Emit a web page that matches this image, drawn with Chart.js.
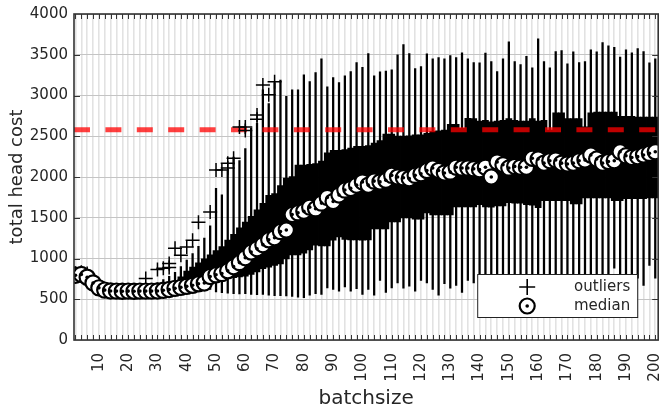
<!DOCTYPE html>
<html>
<head>
<meta charset="utf-8">
<script src="https://cdn.jsdelivr.net/npm/chart.js@4.4.1/dist/chart.umd.min.js"></script>
<style>
  html, body { margin: 0; padding: 0; background: #fff; }
  canvas { display: block; }
</style>
</head>
<body>
<canvas id="chart" width="668" height="414"></canvas>
<script>
// batch sizes (one box per value)
const batchsize = [
    2, 4, 6, 8, 10, 12, 14, 16, 18, 20,
    22, 24, 26, 28, 30, 32, 34, 36, 38, 40,
    42, 44, 46, 48, 50, 52, 54, 56, 58, 60,
    62, 64, 66, 68, 70, 72, 74, 76, 78, 80,
    82, 84, 86, 88, 90, 92, 94, 96, 98, 100,
    102, 104, 106, 108, 110, 112, 114, 116, 118, 120,
    122, 124, 126, 128, 130, 132, 134, 136, 138, 140,
    142, 144, 146, 148, 150, 152, 154, 156, 158, 160,
    162, 164, 166, 168, 170, 172, 174, 176, 178, 180,
    182, 184, 186, 188, 190, 192, 194, 196, 198, 200
];

const median = [
    795, 805, 770, 700, 640, 612, 602, 600, 598, 600,
    598, 600, 600, 600, 602, 610, 620, 634, 646, 658,
    672, 690, 700, 780, 800, 815, 850, 900, 950, 1010,
    1080, 1120, 1170, 1230, 1255, 1330, 1350, 1540, 1560, 1580,
    1630, 1610, 1680, 1750, 1700, 1780, 1840, 1860, 1900, 1940,
    1900, 1950, 1940, 1960, 2020, 2000, 1990, 1980, 2020, 2040,
    2080, 2110, 2080, 2050, 2060, 2120, 2110, 2110, 2100, 2090,
    2120, 2000, 2185, 2150, 2110, 2130, 2120, 2120, 2230, 2220,
    2170, 2200, 2210, 2170, 2160, 2170, 2200, 2210, 2270, 2220,
    2170, 2190, 2200, 2310, 2260, 2240, 2250, 2270, 2290, 2310
];

const q1 = [
    780, 790, 750, 680, 620, 600, 592, 590, 590, 590,
    590, 590, 590, 590, 592, 598, 605, 615, 625, 635,
    650, 670, 680, 700, 730, 740, 750, 760, 770, 780,
    800, 830, 870, 890, 910, 930, 990, 1040, 1040, 1060,
    1100, 1160, 1150, 1150, 1220, 1260, 1230, 1225, 1225, 1220,
    1225, 1360, 1360, 1360, 1445, 1445, 1495, 1495, 1480, 1480,
    1555, 1530, 1530, 1530, 1530, 1630, 1630, 1630, 1630, 1655,
    1630, 1625, 1640, 1640, 1680, 1675, 1675, 1655, 1650, 1620,
    1705, 1705, 1705, 1705, 1705, 1665, 1665, 1740, 1740, 1740,
    1740, 1740, 1705, 1705, 1730, 1730, 1730, 1730, 1740, 1740
];

const q3 = [
    810, 815, 790, 720, 660, 625, 612, 610, 608, 610,
    608, 612, 615, 620, 625, 640, 660, 700, 780, 850,
    900, 950, 1000, 1050, 1100, 1150, 1230, 1300, 1380, 1450,
    1520, 1600, 1680, 1780, 1800, 1900, 1990, 2010, 2150, 2150,
    2160, 2170, 2200, 2300, 2330, 2330, 2340, 2360, 2380, 2380,
    2390, 2420, 2450, 2530, 2530, 2505, 2505, 2510, 2520, 2520,
    2540, 2565, 2570, 2580, 2650, 2650, 2600, 2725, 2720, 2690,
    2700, 2680, 2690, 2700, 2720, 2700, 2690, 2690, 2720, 2690,
    2700, 2580, 2790, 2790, 2720, 2720, 2720, 2620, 2790, 2800,
    2800, 2800, 2800, 2750, 2750, 2750, 2740, 2740, 2740, 2740
];

const whisker_low = [
    770, 780, 740, 660, 600, 590, 585, 582, 580, 582,
    580, 582, 582, 582, 585, 590, 595, 600, 605, 610,
    615, 620, 625, 620, 590, 580, 575, 570, 565, 570,
    560, 555, 560, 550, 545, 545, 540, 535, 525, 520,
    550, 570, 560, 640, 620, 600, 650, 600, 630, 560,
    620, 550, 730, 585, 640, 700, 635, 660, 600, 730,
    700, 620, 550, 690, 635, 670, 585, 730, 700, 680,
    760, 700, 740, 720, 700, 760, 740, 700, 740, 720,
    760, 700, 740, 720, 760, 700, 740, 720, 760, 700,
    740, 720, 880, 760, 740, 720, 760, 670, 915, 760
];

const whisker_high = [
    810, 820, 800, 760, 700, 650, 630, 620, 620, 620,
    630, 640, 660, 680, 700, 740, 780, 830, 900, 980,
    1060, 1150, 1250, 1400, 1860, 1780, 2080, 2245, 2200, 2350,
    2600, 2660, 3070, 2900, 3160, 3190, 2990, 3070, 3070, 3255,
    3170, 3280, 3450, 3105, 3220, 3160, 3240, 3295, 3405, 3345,
    3515, 3240, 3290, 3300, 3315, 3500, 3625, 3515, 3330, 3355,
    3510, 3450, 3465, 3450, 3490, 3465, 3525, 3450, 3405, 3400,
    3520, 3415, 3295, 3450, 3660, 3415, 3380, 3480, 3340, 3695,
    3415, 3340, 3540, 3550, 3390, 3535, 3405, 3415, 3560, 3535,
    3650, 3610, 3590, 3470, 3560, 3525, 3575, 3540, 3400, 3450
];

const outlier_x = [2, 4, 6, 26, 30, 32, 34, 34, 36, 38, 40, 42, 44, 48,
    50, 52, 54, 54, 56, 58, 60, 60, 64, 64, 66, 68, 70];
const outlier_y = [820, 830, 815, 755, 865, 880, 890, 940, 1125, 1040, 1140, 1225, 1445, 1570,
    2085, 2085, 2110, 2170, 2230, 2615, 2615, 2570, 2760, 2710, 3130, 3010, 3170];

const head_limit = 2580;

const x_ticks = [10, 20, 30, 40, 50, 60, 70, 80, 90, 100,
    110, 120, 130, 140, 150, 160, 170, 180, 190, 200];

const x_min = 1.5;
const x_max = 201;
const text_color = '#262626';

Chart.defaults.font.family = "'DejaVu Sans', sans-serif";
Chart.defaults.color = text_color;

const ctx = document.getElementById("chart");

let median_points = batchsize.map((b, i) => ({x: b, y: median[i]}));
let box_bars = batchsize.map((b, i) => ({x: b, y: [q1[i], q3[i]]}));
let whisker_bars = batchsize.map((b, i) => ({x: b, y: [whisker_low[i], whisker_high[i]]}));
let outlier_points = outlier_x.map((b, i) => ({x: b, y: outlier_y[i]}));

// frame + inward tick marks, matplotlib style
const frame_plugin = {
    id: 'frame',
    afterDatasetsDraw(chart) {
        const c = chart.ctx;
        const a = chart.chartArea;
        const xs = chart.scales.x;
        const ys = chart.scales.y;
        c.save();
        c.strokeStyle = '#333';
        c.lineWidth = 1;
        c.beginPath();
        for (const b of batchsize) {
            const px = Math.round(xs.getPixelForValue(b)) + 0.5;
            c.moveTo(px, a.bottom); c.lineTo(px, a.bottom - 5);
            c.moveTo(px, a.top); c.lineTo(px, a.top + 5);
        }
        for (let v = 500; v < 4000; v += 500) {
            const py = Math.round(ys.getPixelForValue(v)) + 0.5;
            c.moveTo(a.left, py); c.lineTo(a.left + 6, py);
            c.moveTo(a.right, py); c.lineTo(a.right - 6, py);
        }
        c.stroke();
        c.lineWidth = 1.6;
        c.strokeRect(a.left, a.top, a.right - a.left, a.bottom - a.top);
        c.restore();
    }
};

const legend_plugin = {
    id: 'legend_box',
    afterDraw(chart) {
        const c = chart.ctx;
        const a = chart.chartArea;
        const x0 = a.right - 181;
        const y0 = a.bottom - 66;
        c.save();
        c.fillStyle = '#fff';
        c.fillRect(x0, y0, 160, 43);
        c.strokeStyle = '#222';
        c.lineWidth = 1;
        c.strokeRect(x0 + 0.5, y0 + 0.5, 160, 43);
        // outlier marker
        const mx = x0 + 50;
        c.strokeStyle = '#000';
        c.lineWidth = 1.6;
        c.beginPath();
        c.moveTo(mx - 8, y0 + 13); c.lineTo(mx + 8, y0 + 13);
        c.moveTo(mx, y0 + 5); c.lineTo(mx, y0 + 21);
        c.stroke();
        // median marker
        c.lineWidth = 2.2;
        c.beginPath();
        c.arc(mx, y0 + 32, 7.5, 0, Math.PI * 2);
        c.fillStyle = '#fff';
        c.fill();
        c.stroke();
        c.beginPath();
        c.arc(mx, y0 + 32, 1.8, 0, Math.PI * 2);
        c.fillStyle = '#000';
        c.fill();
        c.fillStyle = text_color;
        c.font = "15px 'DejaVu Sans', sans-serif";
        c.textAlign = 'right';
        c.textBaseline = 'middle';
        c.fillText('outliers', x0 + 153, y0 + 13);
        c.fillText('median', x0 + 153, y0 + 32);
        c.restore();
    }
};

let chart = new Chart(ctx, {
    type: 'bar',
    data: {
        datasets: [
            {
                type: 'scatter',
                label: 'median centre',
                data: median_points,
                pointStyle: 'circle',
                pointRadius: 1.8,
                pointBackgroundColor: '#000',
                pointBorderWidth: 0,
                order: 0
            },
            {
                type: 'scatter',
                label: 'median',
                data: median_points,
                pointStyle: 'circle',
                pointRadius: 7.6,
                pointBackgroundColor: '#fff',
                pointBorderColor: '#000',
                pointBorderWidth: 2.2,
                order: 1
            },
            {
                type: 'scatter',
                label: 'outliers',
                data: outlier_points,
                pointStyle: 'cross',
                pointRadius: 7,
                pointBorderColor: '#000',
                pointBorderWidth: 1.5,
                order: 2
            },
            {
                type: 'line',
                label: 'limit',
                data: [{x: x_min, y: head_limit}, {x: x_max, y: head_limit}],
                borderColor: 'rgba(255, 0, 0, 0.75)',
                borderWidth: 5,
                borderDash: [16, 15.4],
                borderCapStyle: 'butt',
                pointRadius: 0,
                order: 3
            },
            {
                type: 'bar',
                label: 'box',
                data: box_bars,
                backgroundColor: '#000',
                borderWidth: 0,
                grouped: false,
                barPercentage: 1.15,
                categoryPercentage: 1,
                order: 4
            },
            {
                type: 'bar',
                label: 'whisker',
                data: whisker_bars,
                backgroundColor: '#000',
                borderWidth: 0,
                grouped: false,
                barThickness: 1.6,
                order: 5
            }
        ]
    },
    options: {
        responsive: false,
        animation: false,
        devicePixelRatio: 1,
        events: [],
        layout: {
            padding: {left: 0, right: 4, top: 14, bottom: 0}
        },
        plugins: {
            legend: {display: false},
            tooltip: {enabled: false}
        },
        scales: {
            x: {
                type: 'linear',
                position: 'bottom',
                min: x_min,
                max: x_max,
                offset: false,
                grid: {display: false, offset: false},
                border: {display: false},
                afterBuildTicks: (scale) => {
                    scale.ticks = x_ticks.map(v => ({value: v}));
                },
                afterFit: (scale) => {
                    scale.height = 74;
                    scale.paddingLeft = 0;
                    scale.paddingRight = 0;
                },
                ticks: {
                    autoSkip: false,
                    minRotation: 90,
                    maxRotation: 90,
                    padding: 5,
                    font: {size: 15},
                    color: text_color,
                    callback: (v) => String(v)
                },
                title: {
                    display: true,
                    text: 'batchsize',
                    font: {size: 20},
                    color: text_color,
                    padding: {top: 0, bottom: 3}
                }
            },
            xg: {
                type: 'linear',
                position: 'top',
                min: x_min,
                max: x_max,
                offset: false,
                afterBuildTicks: (scale) => {
                    let t = [];
                    for (let v = 3; v < x_max; v += 2) t.push({value: v});
                    scale.ticks = t;
                },
                afterFit: (scale) => {
                    scale.height = 0;
                    scale.paddingLeft = 0;
                    scale.paddingRight = 0;
                },
                grid: {color: '#e2e2e2', lineWidth: 1.6, drawTicks: false},
                border: {display: false},
                ticks: {display: false}
            },
            y: {
                type: 'linear',
                min: 0,
                max: 4000,
                afterFit: (scale) => {
                    scale.width = 74;
                    scale.paddingTop = 0;
                    scale.paddingBottom = 0;
                },
                grid: {color: '#c4c4c4', lineWidth: 1, drawTicks: false},
                border: {display: false},
                ticks: {
                    stepSize: 500,
                    padding: 6,
                    font: {size: 15},
                    color: text_color,
                    callback: (v) => String(v)
                },
                title: {
                    display: true,
                    text: 'total head cost',
                    font: {size: 18},
                    color: text_color,
                    padding: {top: 7, bottom: 0}
                }
            }
        }
    },
    plugins: [frame_plugin, legend_plugin]
});
</script>
</body>
</html>
